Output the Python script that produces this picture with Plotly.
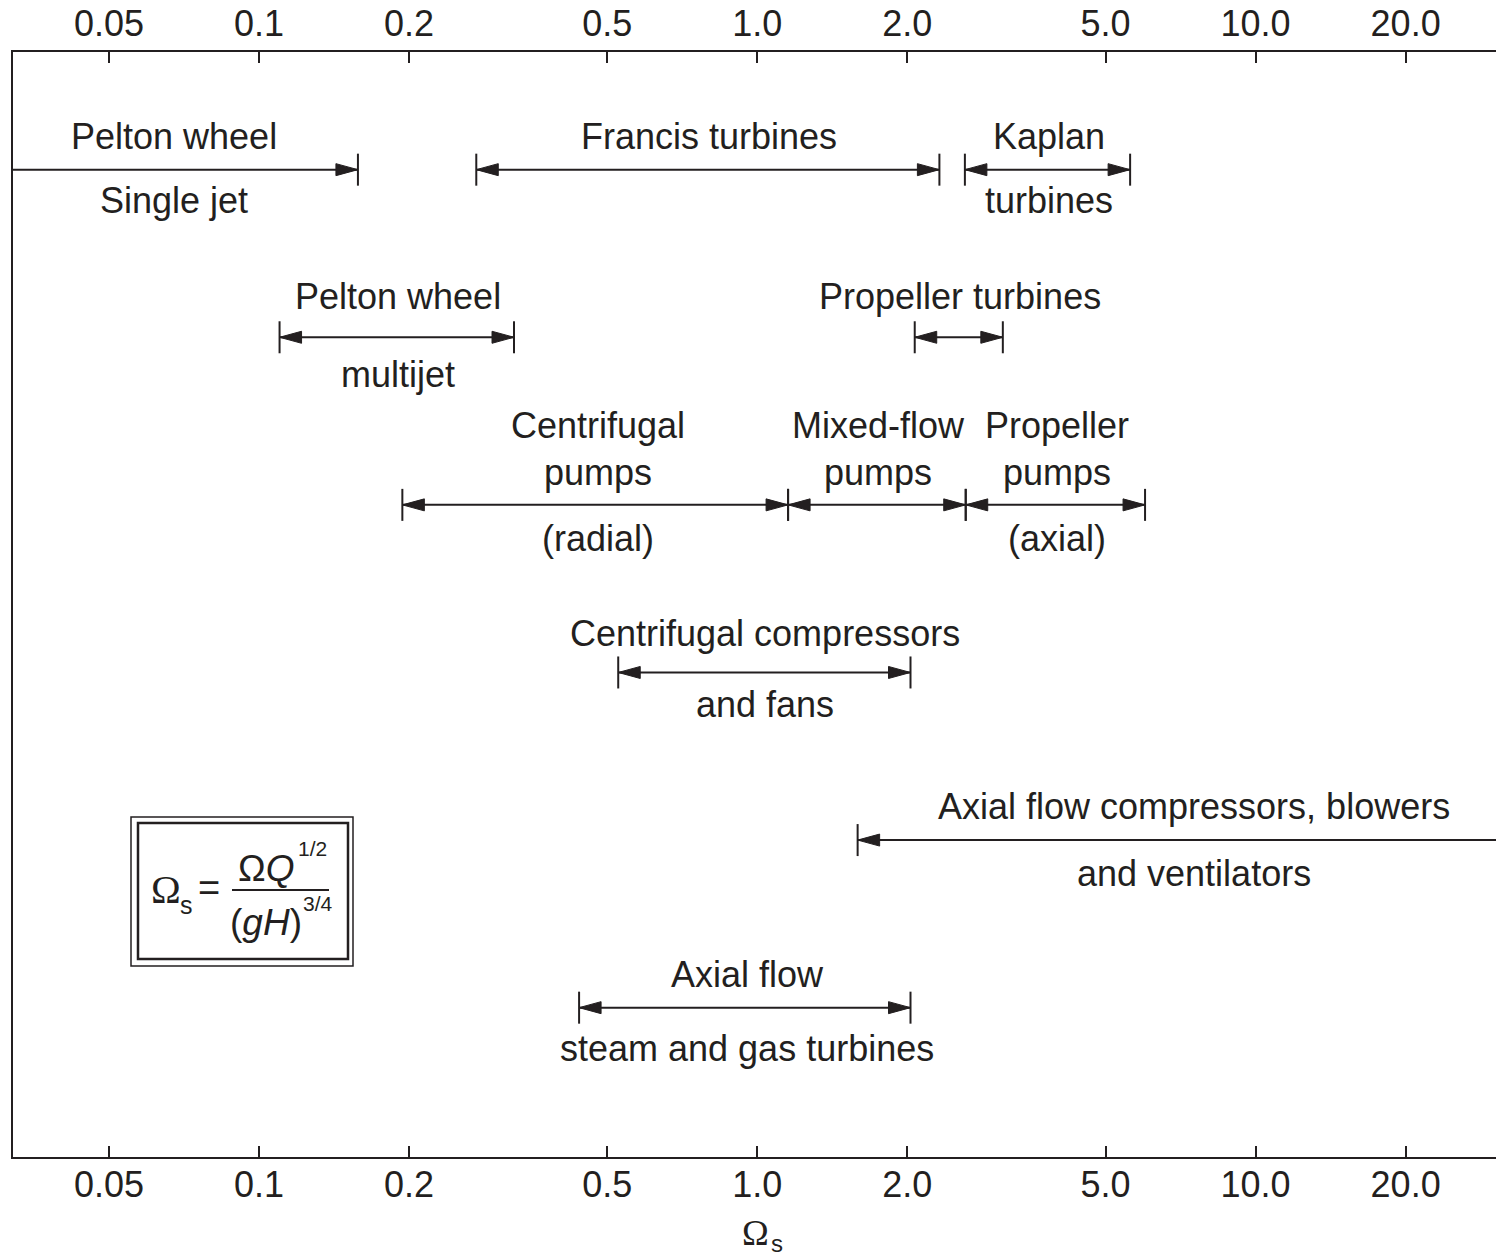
import math
import plotly.graph_objects as go

# ---------------- data ----------------
tick_vals = [0.05, 0.1, 0.2, 0.5, 1.0, 2.0, 5.0, 10.0, 20.0]
tick_text = ["0.05", "0.1", "0.2", "0.5", "1.0", "2.0", "5.0", "10.0", "20.0"]

labels_top = ["Pelton wheel", "Francis turbines", "Kaplan", "Pelton wheel", "Propeller turbines",
              "Centrifugal<br>pumps", "Mixed-flow<br>pumps", "Propeller<br>pumps",
              "Centrifugal compressors", "Axial flow compressors, blowers", "Axial flow"]
labels_bottom = ["Single jet", "", "turbines", "multijet", "", "(radial)", "", "(axial)",
                 "and fans", "and ventilators", "steam and gas turbines"]
row_index = [1, 1, 1, 2, 2, 3, 3, 3, 4, 5, 6]
range_start = [None, 0.273, 2.61, 0.110, 2.07, 0.194, 1.153, 2.62, 0.526, 1.59, 0.439]
range_end = [0.158, 2.32, 5.6, 0.325, 3.11, 1.153, 2.62, 6.0, 2.03, None, 2.03]
label_center = [0.0675, 0.800, 3.85, 0.190, 2.55, 0.479, 1.748, 4.00, 1.036, 7.53, 0.954]

# ---------------- layout constants ----------------
W, H = 1496, 1259
ML, MR, MT, MB = 13, 0, 52, 102
PW, PH = W - ML - MR, H - MT - MB
X_RANGE = [-1.4935, 1.4824]
Y_RANGE = [6.891, 0.2979]
PX_DEC = PW / (X_RANGE[1] - X_RANGE[0])
PX_ROW = PH / (Y_RANGE[0] - Y_RANGE[1])
INK = "#231f20"
FONT = "Liberation Sans, Arial, sans-serif"
SERIF = "Liberation Serif, Times New Roman, serif"
FS = 36

HEAD_LEN = 22 / PX_DEC      # decades
HEAD_HALF = 6 / PX_ROW      # rows
BAR_HALF = 16 / PX_ROW

TOP_SHIFT = {1: 33, 2: 41, 3: 34, 4: 39, 5: 34, 6: 33}
BOT_SHIFT = {1: 31, 2: 37, 3: 34, 4: 32, 5: 33, 6: 41}

xmin, xmax = 10 ** X_RANGE[0], 10 ** X_RANGE[1]

fig = go.Figure()

# main lines
lx, ly = [], []
for s, e, r in zip(range_start, range_end, row_index):
    lx += [s if s is not None else xmin, e if e is not None else xmax, None]
    ly += [r, r, None]
fig.add_trace(go.Scatter(x=lx, y=ly, mode="lines", line=dict(color=INK, width=2),
                         hoverinfo="skip", showlegend=False))

# end bars
bx, by = [], []
for s, e, r in zip(range_start, range_end, row_index):
    for v in (s, e):
        if v is not None:
            bx += [v, v, None]
            by += [r - BAR_HALF, r + BAR_HALF, None]
fig.add_trace(go.Scatter(x=bx, y=by, mode="lines", line=dict(color=INK, width=2),
                         hoverinfo="skip", showlegend=False))

# arrow heads (tip touches the bar)
for s, e, r in zip(range_start, range_end, row_index):
    for v, direction in ((s, +1), (e, -1)):
        if v is None:
            continue
        base = v * 10 ** (direction * HEAD_LEN)
        fig.add_trace(go.Scatter(x=[v, base, base, v], y=[r, r - HEAD_HALF, r + HEAD_HALF, r],
                                 mode="lines", fill="toself", fillcolor=INK,
                                 line=dict(color=INK, width=1), hoverinfo="skip", showlegend=False))

# invisible trace for the top axis
fig.add_trace(go.Scatter(x=[1.0], y=[1], xaxis="x2", mode="markers", marker=dict(opacity=0),
                         hoverinfo="skip", showlegend=False))

# labels
ann = []
for t, b, c, r in zip(labels_top, labels_bottom, label_center, row_index):
    nlines = t.count("<br>") + 1
    ann.append(dict(x=math.log10(c), y=r, xref="x", yref="y", text=t, showarrow=False,
                    xanchor="center", yanchor="middle",
                    yshift=TOP_SHIFT[r] + (nlines - 1) * 22,
                    font=dict(family=FONT, size=FS, color=INK)))
    if b:
        ann.append(dict(x=math.log10(c), y=r, xref="x", yref="y", text=b, showarrow=False,
                        xanchor="center", yanchor="middle", yshift=-BOT_SHIFT[r],
                        font=dict(family=FONT, size=FS, color=INK)))


def px2paper(px, py):
    return (px - ML) / PW, (H - MB - py) / PH


def add_text(px, py, text, size, family=FONT):
    xp, yp = px2paper(px, py)
    ann.append(dict(x=xp, y=yp, xref="paper", yref="paper", text=text, showarrow=False,
                    xanchor="center", yanchor="middle",
                    font=dict(family=family, size=size, color=INK)))


# formula
add_text(166, 889, "Ω", 40, SERIF)
add_text(186, 905, "s", 25)
add_text(209, 888, "=", 38)
add_text(266, 868, "Ω<i>Q</i>", 37)
add_text(312, 848, "1/2", 21)
add_text(266, 922, "(<i>gH</i>)", 37)
add_text(318, 903, "3/4", 21)

# axis title
add_text(755, 1233, "Ω", 36, SERIF)
add_text(777, 1243, "s", 24)

shapes = []
o0 = px2paper(131, 966); o1 = px2paper(353, 817)
shapes.append(dict(type="rect", xref="paper", yref="paper", x0=o0[0], y0=o0[1], x1=o1[0], y1=o1[1],
                   line=dict(color=INK, width=1.5)))
i0 = px2paper(138, 959); i1 = px2paper(348, 823)
shapes.append(dict(type="rect", xref="paper", yref="paper", x0=i0[0], y0=i0[1], x1=i1[0], y1=i1[1],
                   line=dict(color=INK, width=2.5)))
f0 = px2paper(232, 890); f1 = px2paper(329, 890)
shapes.append(dict(type="line", xref="paper", yref="paper", x0=f0[0], y0=f0[1], x1=f1[0], y1=f1[1],
                   line=dict(color=INK, width=2)))

axis_common = dict(type="log", range=X_RANGE, tickvals=tick_vals, ticktext=tick_text,
                   ticks="inside", ticklen=11, tickwidth=2, tickcolor=INK,
                   showline=True, linecolor=INK, linewidth=2, showgrid=False, zeroline=False,
                   tickfont=dict(family=FONT, size=FS, color=INK))

fig.update_layout(
    width=W, height=H,
    margin=dict(l=ML, r=MR, t=MT, b=MB),
    paper_bgcolor="white", plot_bgcolor="white",
    xaxis=dict(**axis_common, side="bottom", ticklabelstandoff=-5),
    xaxis2=dict(**axis_common, side="top", overlaying="x", matches="x"),
    yaxis=dict(range=Y_RANGE, showline=True, linecolor=INK, linewidth=2, showgrid=False,
               zeroline=False, showticklabels=False, ticks=""),
    annotations=ann, shapes=shapes,
    showlegend=False,
)

fig.write_html("out.html", config={"displayModeBar": False},
               post_script="document.body.style.margin='0';document.body.style.overflow='hidden';")
